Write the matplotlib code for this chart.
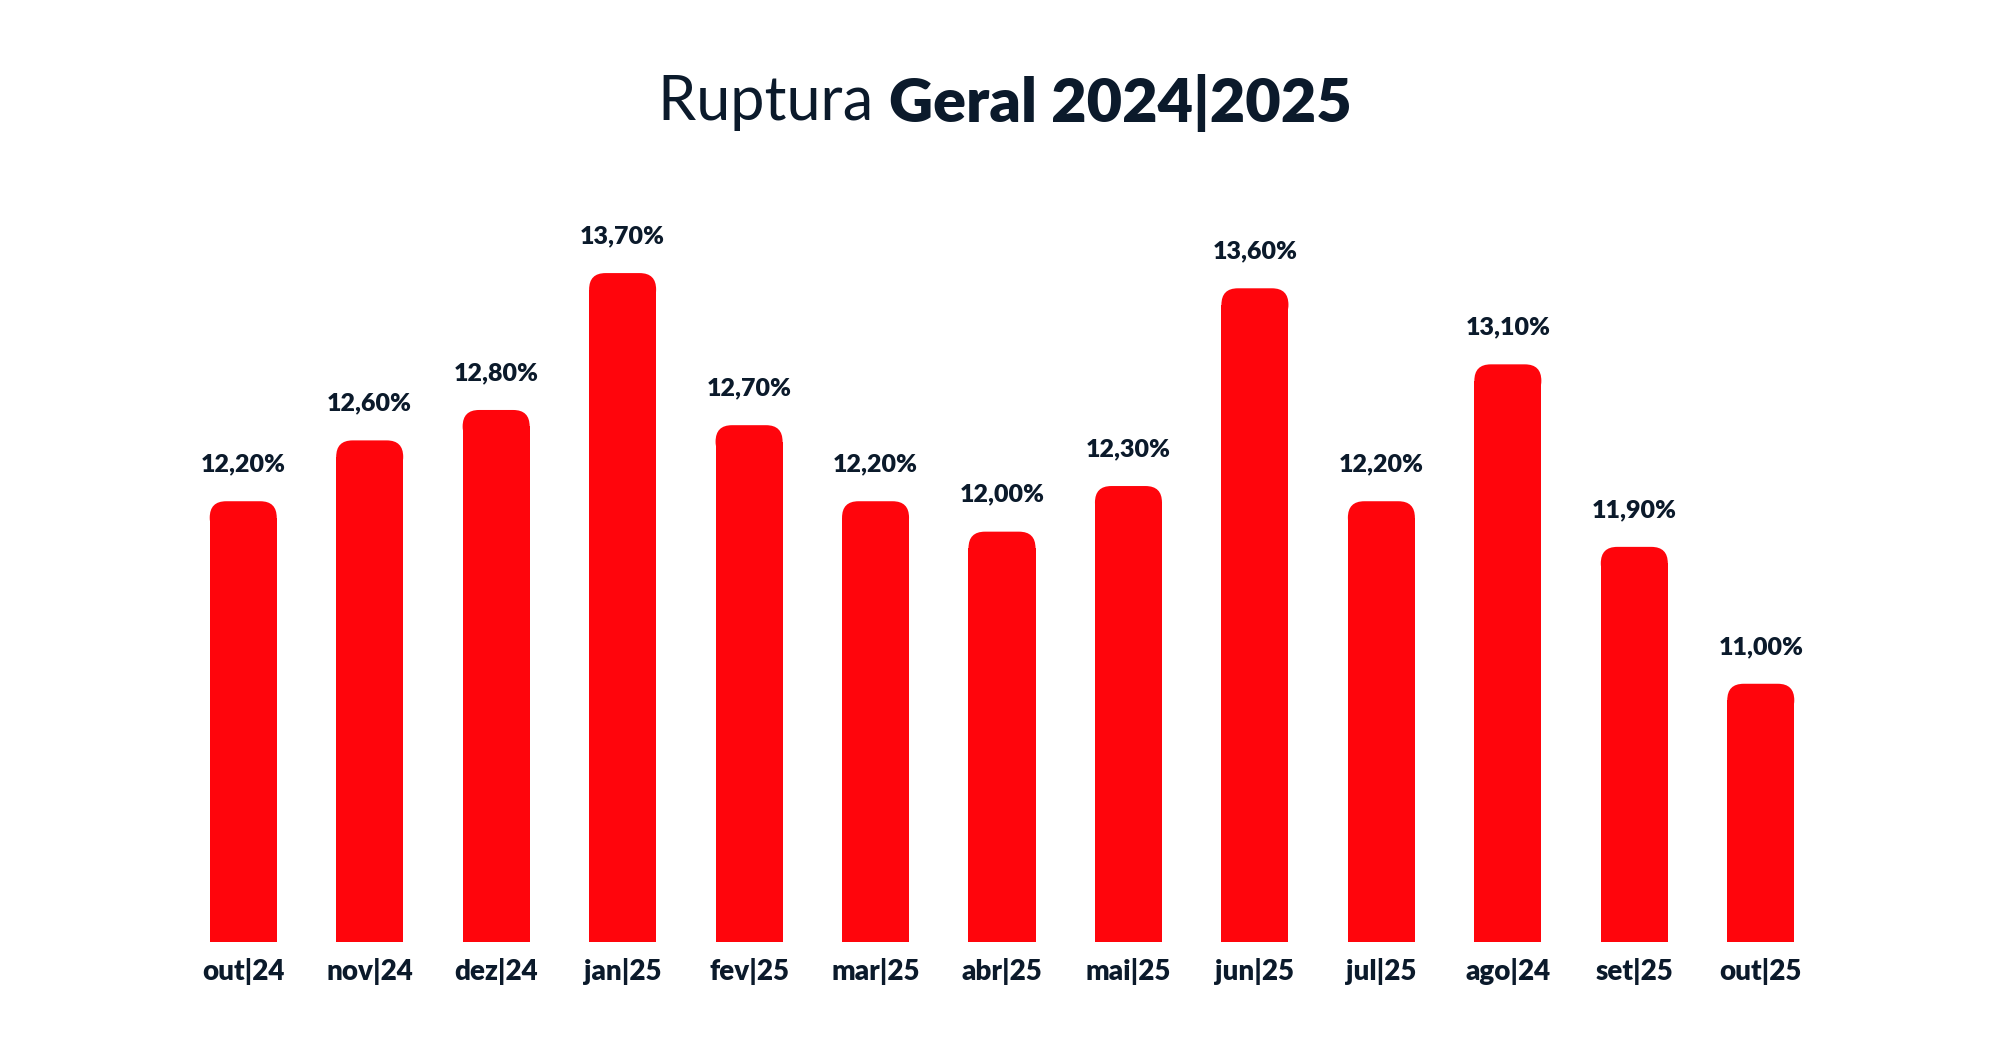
import matplotlib.pyplot as plt
from matplotlib.patches import FancyBboxPatch

months = ["out|24", "nov|24", "dez|24", "jan|25", "fev|25", "mar|25", "abr|25",
          "mai|25", "jun|25", "jul|25", "ago|24", "set|25", "out|25"]
values = [12.2, 12.6, 12.8, 13.7, 12.7, 12.2, 12.0, 12.3, 13.6, 12.2, 13.1, 11.9, 11.0]
labels = ["12,20%", "12,60%", "12,80%", "13,70%", "12,70%", "12,20%", "12,00%",
          "12,30%", "13,60%", "12,20%", "13,10%", "11,90%", "11,00%"]

BASE = 9.3
RED = "#ff050c"
NAVY = "#0b1a2b"
plt.rcParams["font.family"] = ["Lato", "DejaVu Sans"]

fig = plt.figure(figsize=(20, 10.6), dpi=100)
ax = fig.add_axes([0.090, 0.111, 0.822, 0.739])
ax.set_xlim(-0.5, len(months) - 0.5)
ax.set_ylim(BASE, 14.45)
ax.axis("off")

# data units per pixel, to keep the top corners round
ax_w = 0.822 * 2000
ax_h = 0.739 * 1060
aspect = ((14.45 - BASE) / ax_h) / (len(months) / ax_w)

w = 0.53
r = 0.13
for i, (v, lab) in enumerate(zip(values, labels)):
    ry = r * aspect
    ax.bar(i, v - BASE - ry, bottom=BASE, width=w, color=RED, linewidth=0)
    p = FancyBboxPatch((i - w / 2, v - 2 * ry), w, 2 * ry,
                       boxstyle=f"round,pad=0,rounding_size={r}",
                       mutation_aspect=aspect, facecolor=RED, edgecolor="none")
    ax.add_patch(p)
    ax.text(i, v + 0.17, lab, ha="center", va="bottom", fontsize=18,
            fontweight="heavy", color=NAVY)
    ax.text(i, BASE - 0.1, months[i], ha="center", va="top", fontsize=20,
            fontweight="heavy", color=NAVY)

# two-weight title, centred as a whole
t1 = fig.text(0, 0.903, "Ruptura ", ha="left", va="center", fontsize=44,
              fontweight="normal", color=NAVY)
t2 = fig.text(0, 0.903, "Geral 2024|2025", ha="left", va="center", fontsize=44,
              fontweight="heavy", color=NAVY)
fig.canvas.draw()
r_ = fig.canvas.get_renderer()
w1 = t1.get_window_extent(r_).width / 2000
w2 = t2.get_window_extent(r_).width / 2000
x0 = 0.5025 - (w1 + w2) / 2
t1.set_x(x0)
t2.set_x(x0 + w1)

fig.savefig("out.png", dpi=100, facecolor="white")
